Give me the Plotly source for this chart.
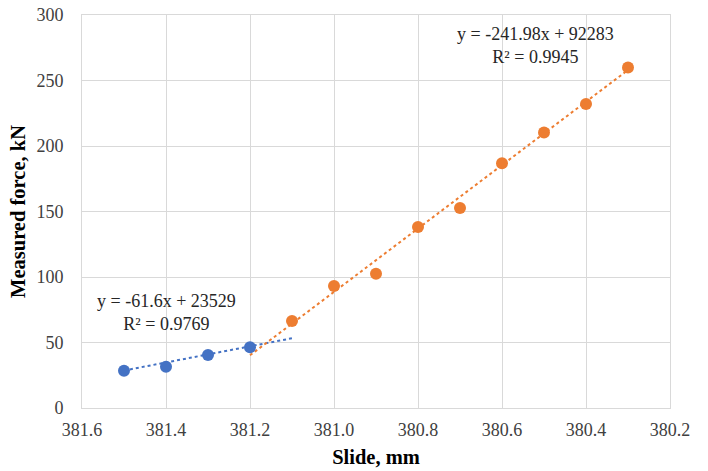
import plotly.graph_objects as go
import numpy as np

# Data
blue_x = [381.5, 381.4, 381.3, 381.2]
blue_y = [28.5, 31.5, 40.4, 46.3]
orange_x = [381.1, 381.0, 380.9, 380.8, 380.7, 380.6, 380.5, 380.4, 380.3]
orange_y = [66.4, 93.1, 102.5, 138.1, 152.6, 186.9, 210.3, 232.1, 259.9]

# trendline coefficients (as displayed)
blue_fit = (-61.6, 23529)
orange_fit = (-241.98, 92283)
blue_trend_x = [381.5, 381.1]
orange_trend_x = [381.2, 380.3]

x_ticks = [381.6, 381.4, 381.2, 381.0, 380.8, 380.6, 380.4, 380.2]
y_ticks = [0, 50, 100, 150, 200, 250, 300]

BLUE = "#4472C4"
ORANGE = "#ED7D31"
FONT = "Liberation Serif, Times New Roman, serif"

fig = go.Figure()

def trend(xs, coef):
    xs = np.array(xs)
    return xs, coef[0] * xs + coef[1]

tx, ty = trend(blue_trend_x, blue_fit)
fig.add_trace(go.Scatter(x=tx, y=ty, mode="lines",
                         line=dict(color=BLUE, width=2, dash="dot"), hoverinfo="skip"))
tx, ty = trend(orange_trend_x, orange_fit)
fig.add_trace(go.Scatter(x=tx, y=ty, mode="lines",
                         line=dict(color=ORANGE, width=2, dash="dot"), hoverinfo="skip"))

fig.add_trace(go.Scatter(x=blue_x, y=blue_y, mode="markers",
                         marker=dict(color=BLUE, size=12)))
fig.add_trace(go.Scatter(x=orange_x, y=orange_y, mode="markers",
                         marker=dict(color=ORANGE, size=12)))

fig.add_annotation(x=381.4, y=73, xref="x", yref="y",
                   text="y = -61.6x + 23529<br>R² = 0.9769", showarrow=False,
                   font=dict(family=FONT, size=18, color="#262626"), align="center")
fig.add_annotation(x=380.52, y=277, xref="x", yref="y",
                   text="y = -241.98x + 92283<br>R² = 0.9945", showarrow=False,
                   font=dict(family=FONT, size=18, color="#262626"), align="center")

fig.update_layout(
    width=708, height=471,
    margin=dict(l=82, r=38, t=15, b=63),
    paper_bgcolor="white", plot_bgcolor="white",
    showlegend=False,
    font=dict(family=FONT, size=18, color="#404040"),
    xaxis=dict(range=[381.6, 380.2], tickvals=x_ticks,
               ticktext=[f"{v:.1f}" for v in x_ticks],
               showgrid=True, gridcolor="#d9d9d9", gridwidth=1,
               showline=True, linecolor="#d9d9d9", linewidth=1, mirror=True,
               zeroline=False, ticks="", ticklabelstandoff=5, automargin=False,
               ticklabeloverflow="allow",
               title=dict(text="<b>Slide, mm</b>", font=dict(family=FONT, size=20.5, color="#000"),
                          standoff=11)),
    yaxis=dict(range=[0, 300], tickvals=y_ticks,
               showgrid=True, gridcolor="#d9d9d9", gridwidth=1,
               showline=True, linecolor="#d9d9d9", linewidth=1, mirror=True,
               zeroline=False, ticks="", ticklabelstandoff=14, automargin=False,
               ticklabeloverflow="allow",
               title=dict(text="<b>Measured force, kN</b>", font=dict(family=FONT, size=20.5, color="#000"),
                          standoff=5)),
)

# remove the default 8px page margin so the 708x471 figure fills the window
fig.write_html("out.html", config={"displayModeBar": False},
               post_script="document.body.style.margin='0';")
